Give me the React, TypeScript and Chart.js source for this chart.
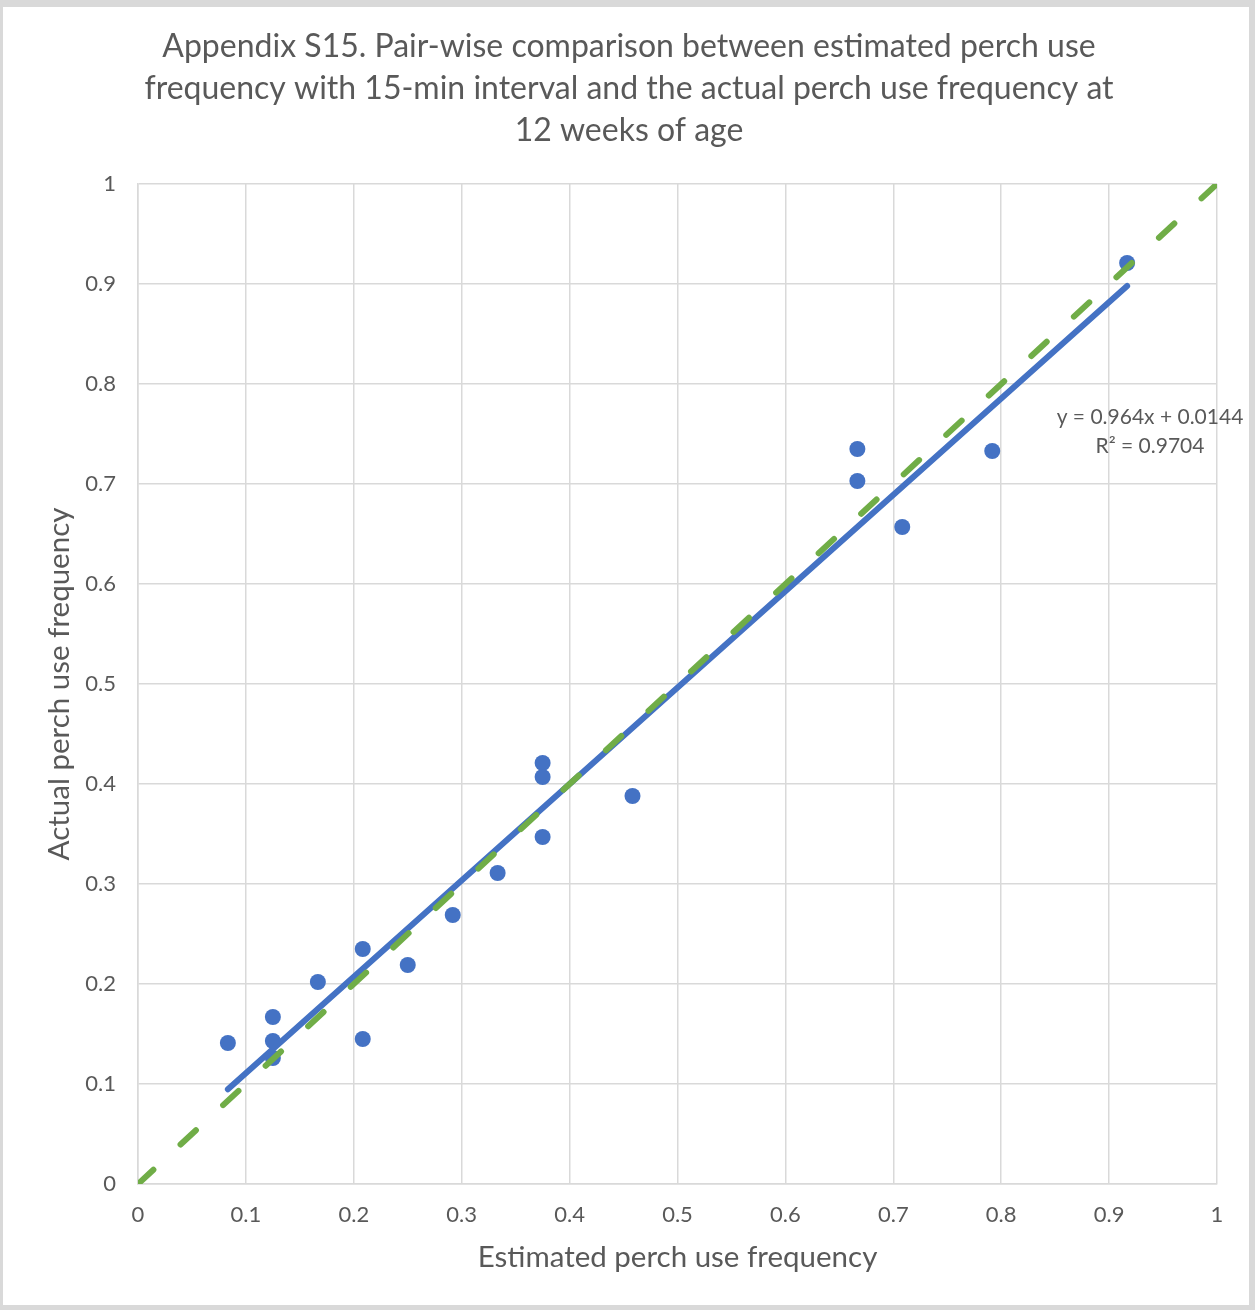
import React, { useEffect, useRef } from "react";
import { Chart, registerables } from "chart.js";

Chart.register(...registerables);

const TITLE_LINES = [
  "Appendix S15. Pair-wise comparison between estimated perch use",
  "frequency with 15-min interval and the actual perch use frequency at",
  "12 weeks of age",
];
const X_TITLE = "Estimated perch use frequency";
const Y_TITLE = "Actual perch use frequency";

const estimated = [
  0.0833, 0.125, 0.125, 0.125, 0.1667, 0.2083, 0.2083, 0.25, 0.2917, 0.3333,
  0.375, 0.375, 0.375, 0.4583, 0.6667, 0.6667, 0.7083, 0.7917, 0.9167,
];
const actual = [
  0.141, 0.167, 0.143, 0.126, 0.202, 0.235, 0.145, 0.219, 0.269, 0.311,
  0.421, 0.407, 0.347, 0.388, 0.735, 0.703, 0.657, 0.733, 0.921,
];

const trendSlope = 0.964;
const trendIntercept = 0.0144;
const trendR2 = 0.9704;
const trendX = [0.0833, 0.9167];

const identityX = [0, 1];
const identityY = [0, 1];

const TEXT = "#595959";
const GRID = "#d9d9d9";
const FONT = "Lato, 'Open Sans', sans-serif";

export default function App() {
  const ref = useRef<HTMLCanvasElement | null>(null);

  useEffect(() => {
    if (!ref.current) return;
    const pts = estimated.map((x, i) => ({ x, y: actual[i] }));
    const trend = trendX.map((x) => ({ x, y: trendSlope * x + trendIntercept }));
    const ident = identityX.map((x, i) => ({ x, y: identityY[i] }));

    const textPlugin = {
      id: "texts",
      afterDraw(chart: any) {
        const ctx = chart.ctx;
        ctx.save();
        ctx.fillStyle = TEXT;
        ctx.textAlign = "center";
        ctx.textBaseline = "middle";
        ctx.font = `32px ${FONT}`;
        const tc = [47, 89, 131];
        TITLE_LINES.forEach((l, i) => ctx.fillText(l, 629, tc[i]));
        ctx.font = `21px ${FONT}`;
        ctx.fillText(`y = ${trendSlope}x + ${trendIntercept}`, 1150, 417);
        ctx.fillText(`R² = ${trendR2}`, 1150, 446);
        ctx.restore();
      },
    };

    const chart = new Chart(ref.current, {
      type: "scatter",
      data: {
        datasets: [
          {
            data: ident,
            showLine: true,
            borderColor: "#70ad47",
            borderWidth: 6,
            borderDash: [21, 37],
            borderCapStyle: "round",
            pointRadius: 0,
            order: 0,
          } as any,
          {
            data: trend,
            showLine: true,
            borderColor: "#4472c4",
            borderWidth: 6,
            borderCapStyle: "round",
            pointRadius: 0,
            order: 1,
          },
          {
            data: pts,
            backgroundColor: "#4472c4",
            borderColor: "#4472c4",
            pointRadius: 8,
            borderWidth: 0,
            order: 2,
          },
        ],
      },
      plugins: [textPlugin],
      options: {
        animation: false,
        responsive: false,
        layout: { padding: { top: 184, left: 0, right: 38, bottom: 0 } },
        plugins: { legend: { display: false }, tooltip: { enabled: false }, title: { display: false } },
        scales: {
          x: {
            type: "linear",
            min: 0,
            max: 1,
            afterFit: (s: any) => { s.height = 126; },
            ticks: {
              stepSize: 0.1,
              color: TEXT,
              font: { size: 22, family: FONT },
              padding: 18,
              callback: (v: any) => String(Math.round(v * 10) / 10),
            },
            grid: { color: GRID, lineWidth: 1.5, drawTicks: false },
            border: { color: GRID, width: 1.5 },
            title: {
              display: true,
              text: X_TITLE,
              color: TEXT,
              font: { size: 29.5, family: FONT },
              padding: { top: 0, bottom: 35 },
            },
          },
          y: {
            type: "linear",
            min: 0,
            max: 1,
            afterFit: (s: any) => { s.width = 138; },
            ticks: {
              stepSize: 0.1,
              color: TEXT,
              font: { size: 22, family: FONT },
              padding: 22,
              callback: (v: any) => String(Math.round(v * 10) / 10),
            },
            grid: { color: GRID, lineWidth: 1.5, drawTicks: false },
            border: { color: GRID, width: 1.5 },
            title: {
              display: true,
              text: Y_TITLE,
              color: TEXT,
              font: { size: 29.5, family: FONT },
              padding: { top: 42, bottom: 0 },
            },
          },
        },
      } as any,
    });
    return () => chart.destroy();
  }, []);

  return (
    <div style={{ position: "fixed", left: 0, top: 0, width: 1255, height: 1310, background: "#d9d9d9" }}>
      <div style={{ position: "absolute", left: 3, top: 7, width: 1246, height: 1298, background: "#fff" }} />
      <canvas ref={ref} width={1255} height={1310} style={{ position: "absolute", left: 0, top: 0, width: 1255, height: 1310 }} />
    </div>
  );
}
